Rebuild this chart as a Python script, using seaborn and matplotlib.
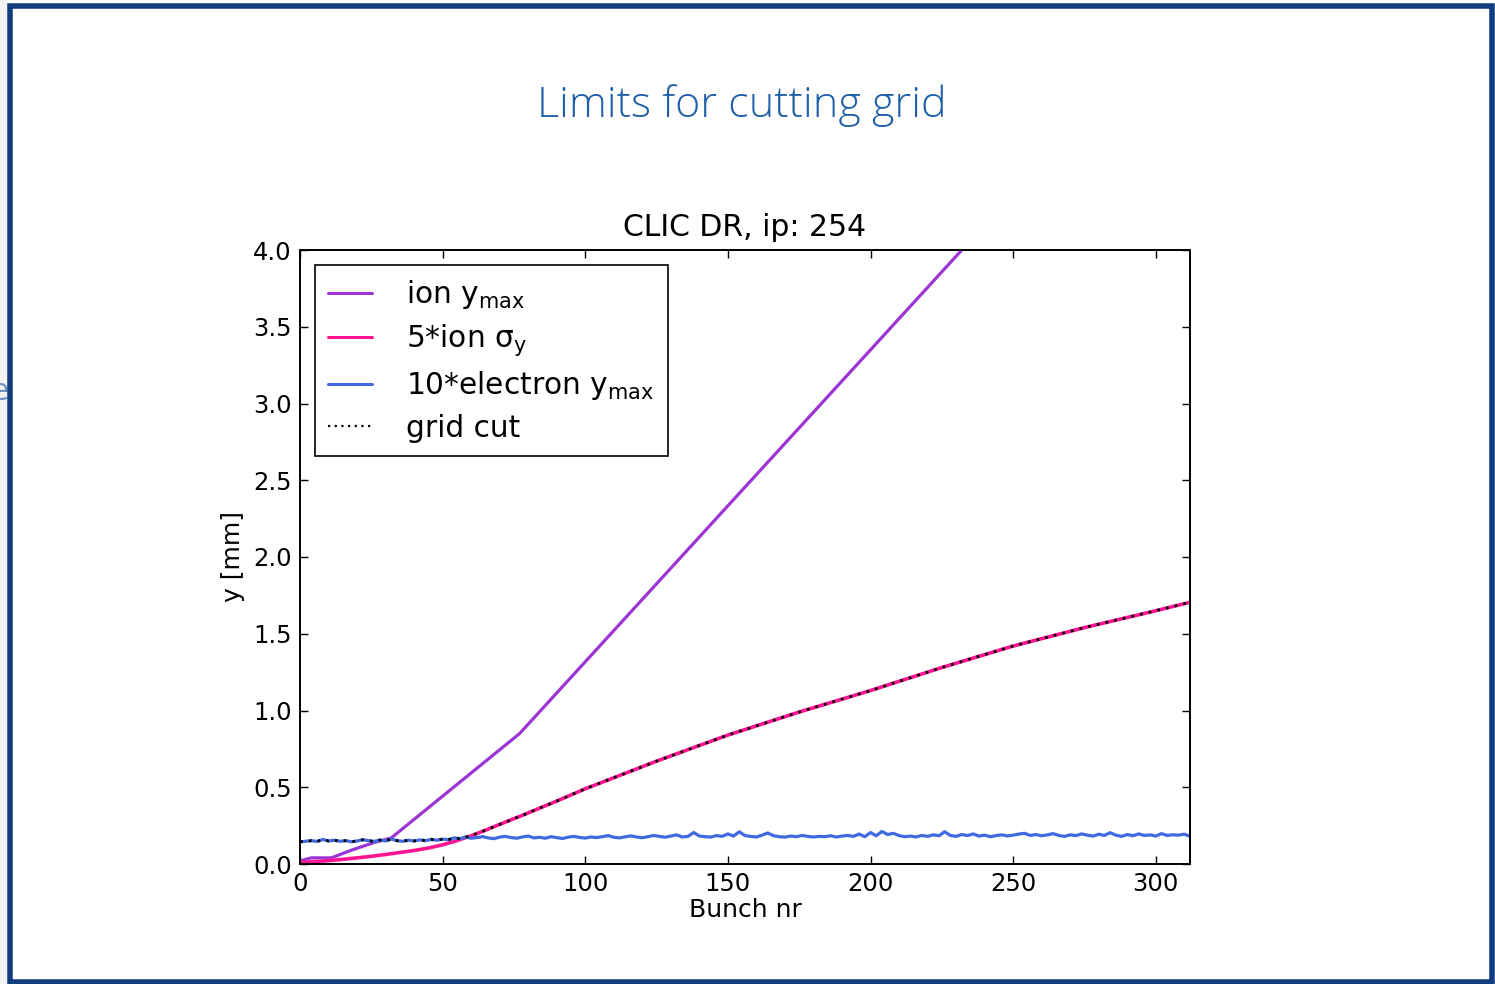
import numpy as np
import pandas as pd
import matplotlib
matplotlib.use("Agg")
import matplotlib.pyplot as plt
import seaborn as sns
from matplotlib.patches import Rectangle
from matplotlib.lines import Line2D

# ---------------- data ----------------
ion_x = [0, 2, 4, 11, 18, 26, 32, 77, 232, 312]
ion_y = [0.02, 0.03, 0.04, 0.04, 0.09, 0.14, 0.17, 0.85, 4.00, 5.62]

sig_x = [0, 5, 10, 15, 20, 25, 30, 35, 40, 45, 50, 55, 60, 65, 70, 77, 90, 100,
         125, 150, 175, 200, 225, 250, 275, 300, 312]
sig_y = [0.010, 0.015, 0.022, 0.030, 0.040, 0.050, 0.062, 0.075, 0.088, 0.104,
         0.125, 0.152, 0.184, 0.220, 0.258, 0.310, 0.410, 0.490, 0.670, 0.840,
         0.990, 1.130, 1.280, 1.420, 1.540, 1.650, 1.705]

ele_y = [0.145, 0.148, 0.152, 0.147, 0.160, 0.150, 0.155, 0.148, 0.152, 0.145,
         0.150, 0.158, 0.152, 0.147, 0.156, 0.150, 0.163, 0.152, 0.148, 0.155,
         0.150, 0.157, 0.152, 0.160, 0.155, 0.162, 0.158, 0.170, 0.165,
         0.175, 0.168, 0.172, 0.178, 0.170, 0.165, 0.175, 0.180, 0.172, 0.168,
         0.176, 0.182, 0.170, 0.174, 0.168, 0.178, 0.172, 0.166, 0.175, 0.180,
         0.173, 0.169, 0.176, 0.172, 0.178, 0.185, 0.174, 0.170, 0.177, 0.183,
         0.176, 0.171,
         0.178, 0.186, 0.180, 0.174, 0.182, 0.190, 0.176, 0.180, 0.205, 0.182,
         0.178, 0.175, 0.185, 0.180, 0.196, 0.182, 0.210, 0.185, 0.180, 0.176,
         0.188, 0.202, 0.184, 0.178, 0.175, 0.182, 0.178, 0.186, 0.180, 0.176,
         0.180, 0.178, 0.184, 0.176, 0.182, 0.186, 0.180, 0.195, 0.178, 0.205,
         0.184, 0.212, 0.192, 0.200, 0.185, 0.178, 0.182, 0.176, 0.186, 0.180,
         0.190, 0.184, 0.210, 0.186, 0.180, 0.192, 0.185, 0.196, 0.182, 0.188,
         0.178, 0.185, 0.190, 0.183, 0.188,
         0.195, 0.200, 0.186, 0.192, 0.184, 0.190, 0.198, 0.186, 0.180, 0.190,
         0.185, 0.196, 0.188, 0.182, 0.194, 0.186, 0.204, 0.188, 0.180, 0.192,
         0.184, 0.196, 0.186, 0.190, 0.182, 0.198, 0.186, 0.190, 0.188, 0.194,
         0.180]
ele_x = list(range(0, 2 * len(ele_y), 2))

crossover = 57  # grid cut follows electron curve before, ion sigma after

grid_x = [x for x in ele_x if x < crossover] + [x for x in sig_x if x >= crossover]
grid_y = [y for x, y in zip(ele_x, ele_y) if x < crossover] + \
         [y for x, y in zip(sig_x, sig_y) if x >= crossover]

x_ticks = [0, 50, 100, 150, 200, 250, 300]
y_ticks = [0.0, 0.5, 1.0, 1.5, 2.0, 2.5, 3.0, 3.5, 4.0]

# ---------------- figure ----------------
sns.set_style("ticks")
plt.rcParams["font.family"] = ["DejaVu Sans"]
plt.rcParams["mathtext.default"] = "regular"
plt.rcParams["text.color"] = "black"
plt.rcParams["axes.labelcolor"] = "black"

W, H = 1495, 984
fig = plt.figure(figsize=(W / 100, H / 100), dpi=100)
fig.patch.set_facecolor("white")

# slide frame
fig.patches.append(Rectangle((0, 0), 7 / W, 1, transform=fig.transFigure,
                             facecolor="#f3f3f3", edgecolor="none", zorder=0))
fig.patches.append(Rectangle((9.5 / W, 2.5 / H), (W - 9.5 - 3) / W, (H - 2.5 - 5.5) / H,
                             transform=fig.transFigure, facecolor="none",
                             edgecolor="#123c80", linewidth=4.0, zorder=5))
# fragment of a neighbouring slide's text, clipped by the left edge as in the reference
fig.text(-9 / W, 1 - 392 / H, "e", color="#6d8fc0", fontsize=22,
         ha="left", va="center", family="Open Sans")

fig.text(742 / W, 1 - 106 / H, "Limits for cutting grid", color="#1f5ea8",
         fontsize=31, ha="center", va="center", family="Open Sans",
         fontweight="light")

ax = fig.add_axes([300 / W, 1 - 864 / H, 890 / W, 614 / H])

LW = 2.3
sns.lineplot(x=ion_x, y=ion_y, ax=ax, color="#9b35d6", lw=LW,
             label=r"ion $\mathrm{y_{max}}$", sort=False, estimator=None)
sns.lineplot(x=sig_x, y=sig_y, ax=ax, color="#ff1493", lw=LW + 0.3,
             label=r"5*ion $\mathrm{\sigma_{y}}$", sort=False, estimator=None)
sns.lineplot(x=ele_x, y=ele_y, ax=ax, color="#4169e1", lw=LW,
             label=r"10*electron $\mathrm{y_{max}}$", sort=False, estimator=None)
sns.lineplot(x=grid_x, y=grid_y, ax=ax, color="black", lw=2.0,
             label="grid cut", sort=False, estimator=None)
ax.lines[-1].set_linestyle((0, (1, 2.2)))

ax.set_xlim(0, 312)
ax.set_ylim(0, 4.0)
ax.set_xticks(x_ticks)
ax.set_yticks(y_ticks)
ax.set_yticklabels([f"{v:.1f}" for v in y_ticks])
ax.tick_params(direction="in", length=6, width=1, top=True, right=True,
               labelsize=17.5, pad=6, colors="black")
for s in ax.spines.values():
    s.set_visible(True)
    s.set_linewidth(1.4)
    s.set_color("black")

ax.set_xlabel("Bunch nr", fontsize=18, labelpad=1, color="black")
ax.set_ylabel("y [mm]", fontsize=18, labelpad=6, color="black")
ax.set_title("CLIC DR, ip: 254", fontsize=21.5, pad=10, color="black")

handles = [Line2D([], [], color="#9b35d6", lw=2.2),
           Line2D([], [], color="#ff1493", lw=2.2),
           Line2D([], [], color="#4169e1", lw=2.2),
           Line2D([], [], color="black", lw=1.6, linestyle=(0, (1, 2)))]
labels = [r"ion $\mathrm{y_{max}}$", r"5*ion $\mathrm{\sigma_{y}}$",
          r"10*electron $\mathrm{y_{max}}$", "grid cut"]
leg = ax.legend(handles, labels, loc="upper left", fontsize=21.3, frameon=True,
                fancybox=False, edgecolor="black", framealpha=1,
                handlelength=1.5, handletextpad=1.15, borderpad=0.45,
                labelspacing=0.38, borderaxespad=0.5)
leg.get_frame().set_linewidth(1.2)
for t in leg.get_texts():
    t.set_color("black")

fig.savefig("out.png", dpi=100)
